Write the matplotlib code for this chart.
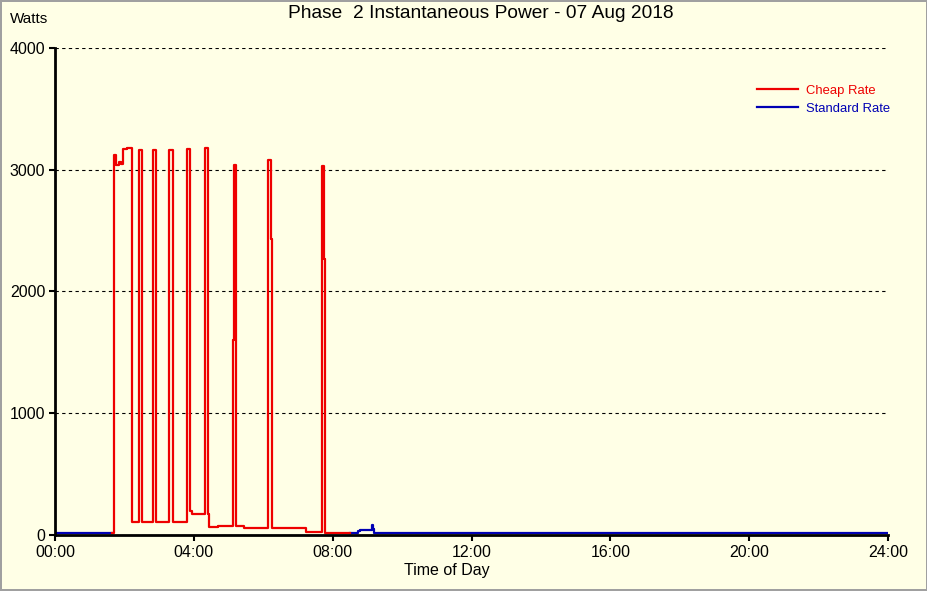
import matplotlib
matplotlib.use('Agg')
import matplotlib.pyplot as plt

# hours of the day and watts (step changes)
cheap_hours = [1.64, 1.70, 1.76, 1.84, 1.90, 1.95, 2.08, 2.21, 2.43, 2.50, 2.83, 2.90,
               3.29, 3.39, 3.81, 3.88, 3.95, 4.33, 4.41, 4.45, 4.70, 4.90, 5.14, 5.17,
               5.20, 5.30, 5.45, 6.15, 6.21, 6.24, 7.23, 7.69, 7.74, 7.77, 8.50]
cheap_watts = [20, 3120, 3040, 3060, 3050, 3170, 3180, 110, 3160, 110, 3160, 110,
               3165, 110, 3170, 200, 175, 3175, 175, 65, 75, 70, 1600, 3040,
               70, 75, 60, 3080, 2430, 60, 25, 3030, 2270, 20, 20]

std_early_hours = [0.0, 1.64]
std_early_watts = [20, 20]
std_late_hours = [8.50, 8.73, 8.80, 9.05, 9.12, 9.16, 9.20, 24.0]
std_late_watts = [20, 35, 40, 40, 80, 45, 20, 20]

x_ticks = [0, 4, 8, 12, 16, 20, 24]
x_tick_labels = ['00:00', '04:00', '08:00', '12:00', '16:00', '20:00', '24:00']
y_ticks = [0, 1000, 2000, 3000, 4000]

BG = '#FFFFE6'
RED = '#EE0000'
BLUE = '#0000B4'

plt.rcParams['font.family'] = ['Liberation Sans', 'DejaVu Sans']

fig = plt.figure(figsize=(9.28, 5.91), dpi=100, facecolor=BG)
fig.patch.set_edgecolor('#A0A0A0')
fig.patch.set_linewidth(1.5)
ax = fig.add_axes([0.0593, 0.0948, 0.8976, 0.824])
ax.set_facecolor(BG)

ax.step(std_early_hours, std_early_watts, where='post', color=BLUE, lw=1.6, label='_hide')
ax.step(std_late_hours, std_late_watts, where='post', color=BLUE, lw=1.6, label='Standard Rate')
ax.step(cheap_hours, cheap_watts, where='post', color=RED, lw=1.6, label='Cheap Rate')

ax.set_xlim(0, 24)
ax.set_ylim(0, 4000)
ax.set_xticks(x_ticks)
ax.set_xticklabels(x_tick_labels)
ax.set_yticks(y_ticks)
ax.grid(axis='y', color='black', linestyle=(0, (3, 3)), linewidth=0.8)
ax.set_axisbelow(True)

for side in ['top', 'right']:
    ax.spines[side].set_visible(False)
for side in ['left', 'bottom']:
    ax.spines[side].set_linewidth(2)
ax.tick_params(direction='out', length=4.5, width=1.5, labelsize=11.5, colors='black')
ax.tick_params(axis='x', pad=3)
ax.tick_params(axis='y', pad=2.5)

fig.text(0.482, 0.035, 'Time of Day', fontsize=11.5, ha='center', va='center')
fig.text(0.011, 0.968, 'Watts', fontsize=11, va='center', ha='left')
fig.text(0.518, 0.978, 'Phase  2 Instantaneous Power - 07 Aug 2018',
         fontsize=13.8, ha='center', va='center')

handles, labels = ax.get_legend_handles_labels()
order = [1, 0]
leg = ax.legend([handles[i] for i in order], [labels[i] for i in order],
                loc='upper left', bbox_to_anchor=(0.843, 0.925), frameon=False,
                fontsize=9.4, handlelength=3.1, borderpad=0, borderaxespad=0,
                labelspacing=0.45, handletextpad=0.6, labelcolor='linecolor')

fig.savefig('out.png', dpi=100, facecolor=BG, edgecolor=fig.patch.get_edgecolor())
